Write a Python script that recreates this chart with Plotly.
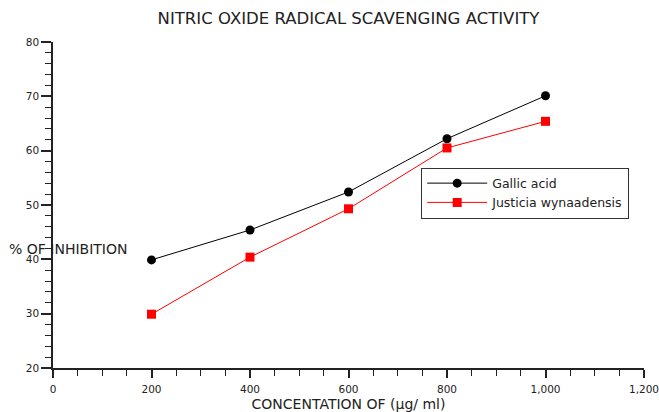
import plotly.graph_objects as go

conc = [200, 400, 600, 800, 1000]
gallic = [39.9, 45.4, 52.4, 62.2, 70.1]
justicia = [29.9, 40.4, 49.3, 60.5, 65.4]

font = "DejaVu Sans"
ink = "#222"

fig = go.Figure()
fig.add_trace(go.Scatter(
    x=conc, y=gallic, mode="lines+markers", name="Gallic acid",
    line=dict(color="black", width=1),
    marker=dict(symbol="circle", size=9, color="black")
))
fig.add_trace(go.Scatter(
    x=conc, y=justicia, mode="lines+markers", name="Justicia wynaadensis",
    line=dict(color="red", width=1),
    marker=dict(symbol="square", size=9, color="red")
))

fig.update_layout(
    width=659, height=412,
    paper_bgcolor="white", plot_bgcolor="white",
    margin=dict(l=53, r=15, t=42, b=44, autoexpand=False),
    font=dict(family=font, size=11, color=ink),
    title=dict(text="NITRIC OXIDE RADICAL SCAVENGING ACTIVITY", xref="paper", x=0.5, xanchor="center",
               yref="container", y=1 - 18 / 412, yanchor="middle",
               font=dict(family=font, size=16.5, color=ink)),
    legend=dict(x=0.623, y=0.615, xanchor="left", yanchor="top",
                bordercolor="#333", borderwidth=1, bgcolor="white",
                font=dict(family=font, size=12.5, color=ink),
                itemwidth=60, tracegroupgap=0),
    showlegend=True,
)

fig.update_xaxes(
    range=[0, 1200], dtick=200, tickformat=",", automargin=False,
    ticklabeloverflow="allow", ticklabelstandoff=3,
    tickfont=dict(family=font, size=10.5, color=ink),
    showline=True, linecolor=ink, linewidth=1.5, mirror=False,
    ticks="outside", ticklen=8, tickcolor=ink, tickwidth=1.5,
    showgrid=False, zeroline=False,
    minor=dict(dtick=50, ticks="outside", ticklen=6, tickcolor=ink, tickwidth=1, showgrid=False),
    title=dict(text="CONCENTATION OF (µg/ ml)", standoff=5, font=dict(family=font, size=14, color=ink)),
)
fig.update_yaxes(
    range=[20, 80], dtick=10, automargin=False,
    tickfont=dict(family=font, size=10.5, color=ink),
    showline=True, linecolor=ink, linewidth=1.5, mirror=False,
    ticks="outside", ticklen=10, tickcolor=ink, tickwidth=1.5,
    showgrid=False, zeroline=False,
    minor=dict(dtick=2, ticks="outside", ticklen=6, tickcolor=ink, tickwidth=1, showgrid=False),
)

fig.add_annotation(
    text="% OF INHIBITION", xref="paper", yref="paper", x=-0.078, y=0.365,
    xanchor="left", yanchor="middle", showarrow=False,
    font=dict(family=font, size=14, color=ink)
)

# drop the page's default body margin so the figure fills the window
fig.write_html("out.html", config={"displayModeBar": False},
               post_script="document.body.style.margin='0';document.body.style.overflow='hidden';")
